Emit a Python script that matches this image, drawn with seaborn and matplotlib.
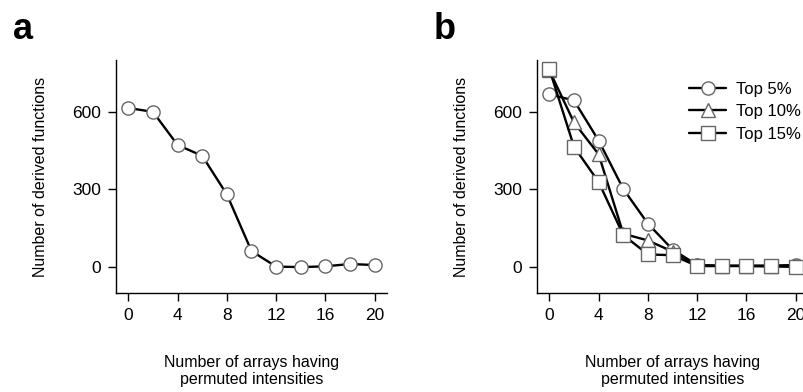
import numpy as np
import pandas as pd
import matplotlib
matplotlib.use("Agg")
import matplotlib.pyplot as plt
import seaborn as sns

# x positions: number of arrays with permuted intensities
arrays = [0, 2, 4, 6, 8, 10, 12, 14, 16, 18, 20]

# panel a
funcs_a = [615, 600, 472, 430, 281, 62, 2, 0, 3, 12, 8]

# panel b
top5 = [668, 644, 489, 302, 168, 68, 8, 5, 5, 6, 8]
top10 = [760, 559, 436, 129, 103, 60, 7, 5, 5, 4, 3]
top15 = [765, 465, 329, 124, 49, 46, 4, 4, 4, 3, 1]
series_names = ["Top 5%", "Top 10%", "Top 15%"]
series_markers = ["o", "^", "s"]

sns.set_style("ticks")
plt.rcParams["font.family"] = ["Liberation Sans", "DejaVu Sans"]
plt.rcParams["text.color"] = "black"
plt.rcParams["axes.labelcolor"] = "black"

fig = plt.figure(figsize=(8.04, 3.92), dpi=100)
ax_a = fig.add_axes([0.1443, 0.2526, 0.337, 0.594])
ax_b = fig.add_axes([0.668, 0.2526, 0.337, 0.594])

line_kw = dict(color="black", linewidth=1.7, markersize=9.5,
               markerfacecolor="white", markeredgecolor="#666666",
               markeredgewidth=1.0)

df_a = pd.DataFrame({"x": arrays, "y": funcs_a})
sns.lineplot(data=df_a, x="x", y="y", marker="o", ax=ax_a, **line_kw)

for name, mk, vals in zip(series_names, series_markers, [top5, top10, top15]):
    d = pd.DataFrame({"x": arrays, "y": vals})
    sns.lineplot(data=d, x="x", y="y", marker=mk, label=name, ax=ax_b, **line_kw)

ax_b.legend(loc="upper right", bbox_to_anchor=(1.01, 0.95), frameon=False,
            fontsize=12, handlelength=2.2, labelspacing=0.45,
            handletextpad=0.6, borderaxespad=0.2)

for ax in (ax_a, ax_b):
    ax.set_xlim(-1, 21)
    ax.set_ylim(-100, 800)
    ax.set_xticks([0, 4, 8, 12, 16, 20])
    ax.set_yticks([0, 300, 600])
    sns.despine(ax=ax)
    for s in ("left", "bottom"):
        ax.spines[s].set_linewidth(1.0)
        ax.spines[s].set_color("black")
    ax.tick_params(length=6, width=1.0, labelsize=12.5, colors="black", pad=5)
    ax.set_ylabel("Number of derived functions", fontsize=11.5, labelpad=17)
    ax.set_xlabel("Number of arrays having\npermuted intensities", fontsize=11.5,
                  labelpad=23, linespacing=1.15)

fig.text(13 / 804, 1 - 39 / 392, "a", fontsize=26, fontweight="bold", va="baseline")
fig.text(434 / 804, 1 - 39 / 392, "b", fontsize=26, fontweight="bold", va="baseline")

fig.savefig("out.png", dpi=100)
